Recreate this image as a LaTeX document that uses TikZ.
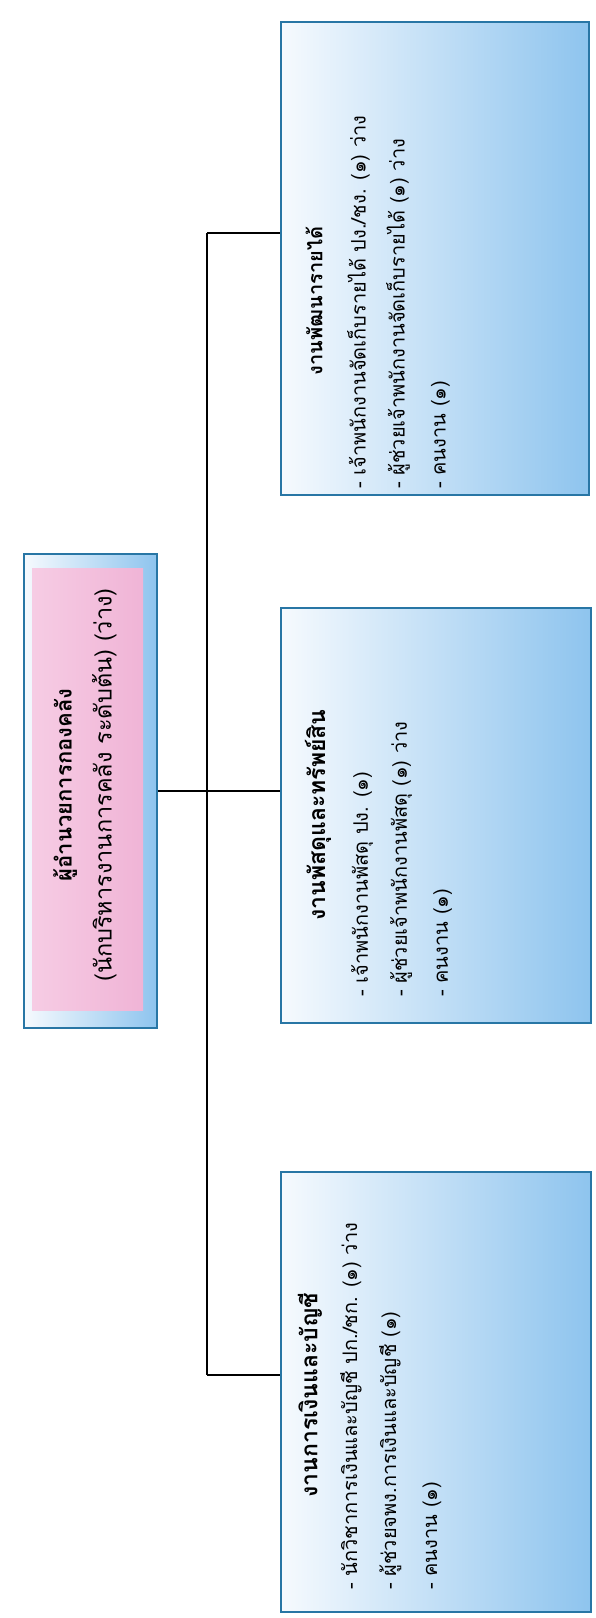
\documentclass[tikz,border=0pt]{standalone}
\usepackage{fontspec}
\newfontfamily\thaifont[Script=Thai]{Loma}

\begin{document}
\begin{tikzpicture}[x=1pt,y=1pt,yscale=-1,xscale=1,
  unitbox/.style={rectangle, inner sep=0pt, line width=1.4pt,
    draw={rgb, 255:red, 40; green, 118; blue, 165},
    left color={rgb, 255:red, 246; green, 250; blue, 254},
    middle color={rgb, 255:red, 210; green, 230; blue, 247},
    right color={rgb, 255:red, 142; green, 196; blue, 238}},
  pinkbox/.style={rectangle, inner sep=0pt,
    left color={rgb, 255:red, 246; green, 204; blue, 228},
    right color={rgb, 255:red, 240; green, 180; blue, 214}},
  unittitle/.style={rotate=90, inner sep=0pt, font=\thaifont\bfseries\fontsize{23}{26}\selectfont},
  unitlist/.style={rotate=90, inner sep=0pt, anchor=north west, align=left,
    font=\thaifont\fontsize{20}{39}\selectfont},
  link/.style={draw=black, line width=1.2pt}]
\useasboundingbox (0,0) rectangle (595,1618);

%Shape: Rectangle (head)
\node[unitbox, minimum width=133pt, minimum height=474pt] (head) at (90.5,791) {};
\node[pinkbox, minimum width=111pt, minimum height=442pt] (headfill) at (87.5,789) {};
% Text Node
\node[rotate=90, inner sep=0pt, align=center, font=\thaifont\fontsize{23.5}{40}\selectfont] (headtext) at (85,785)
  {{\bfseries\fontsize{22}{40}\selectfont ผู้อำนวยการกองคลัง}\\(นักบริหารงานการคลัง ระดับต้น) (ว่าง)};

%Shape: Rectangle (units)
\node[unitbox, minimum width=308pt, minimum height=473pt] (revenue) at (435,258.5) {};
\node[unitbox, minimum width=310pt, minimum height=415pt] (supply) at (436,815.5) {};
\node[unitbox, minimum width=310pt, minimum height=440pt] (finance) at (436,1392) {};

% Text Node
\node[unittitle, font=\thaifont\bfseries\fontsize{20}{24}\selectfont] (revenuetitle) at (314,301) {งานพัฒนารายได้};
\node[unitlist] (revenuelist) at (347,489)
  {- เจ้าพนักงานจัดเก็บรายได้ ปง./ชง. (๑) ว่าง\\- ผู้ช่วยเจ้าพนักงานจัดเก็บรายได้ (๑) ว่าง\\[2pt]- คนงาน (๑)};
% Text Node
\node[unittitle] (supplytitle) at (318,815) {งานพัสดุและทรัพย์สิน};
\node[unitlist] (supplylist) at (351,997)
  {- เจ้าพนักงานพัสดุ ปง. (๑)\\- ผู้ช่วยเจ้าพนักงานพัสดุ (๑) ว่าง\\[2pt]- คนงาน (๑)};
% Text Node
\node[unittitle] (financetitle) at (310,1395) {งานการเงินและบัญชี};
\node[unitlist] (financelist) at (340,1590)
  {- นักวิชาการเงินและบัญชี ปก./ชก. (๑) ว่าง\\- ผู้ช่วยจพง.การเงินและบัญชี (๑)\\[2pt]- คนงาน (๑)};

%Connectors
\coordinate (jr) at (207,233);
\coordinate (jf) at (207,1375);
\draw[link] (head.east) -- (head.east -| supply.west);
\draw[link] (jr) -- (jf);
\draw[link] (jr) -- (jr -| revenue.west);
\draw[link] (jf) -- (jf -| finance.west);

\end{tikzpicture}
\end{document}
